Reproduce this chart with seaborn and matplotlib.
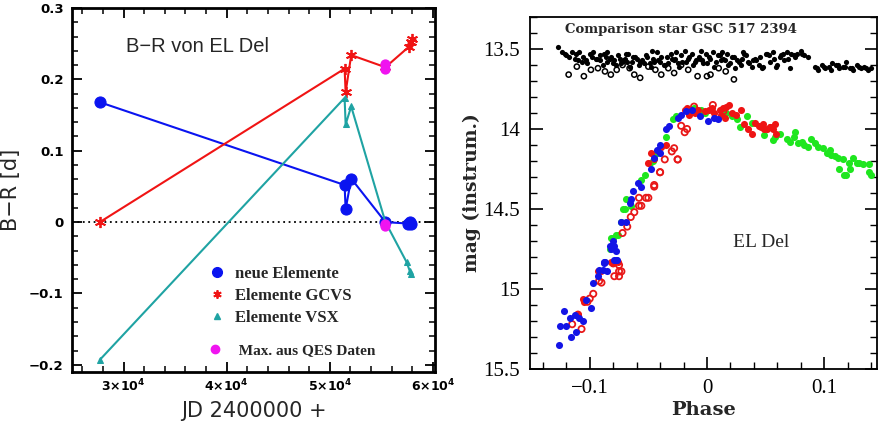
import numpy as np
import pandas as pd
import seaborn as sns
import matplotlib
matplotlib.use("Agg")
import matplotlib.pyplot as plt
from matplotlib.lines import Line2D
from matplotlib.ticker import MultipleLocator, FixedLocator, FuncFormatter

# ---------------- Left panel data (B-R of EL Del) ----------------
jd_neu = [27700, 51440, 51540, 52080, 55400, 57600, 57750, 57850]
br_neu = [0.168, 0.052, 0.018, 0.061, 0.000, -0.002, 0.000, -0.003]
jd_gcvs = [27700, 51440, 51540, 52080, 55400, 57700, 57850, 57950]
br_gcvs = [0.000, 0.215, 0.182, 0.234, 0.217, 0.246, 0.252, 0.256]
jd_vsx = [27700, 51440, 51540, 52080, 55400, 57450, 57750, 57850]
br_vsx = [-0.193, 0.174, 0.137, 0.162, 0.000, -0.056, -0.068, -0.072]
jd_qes = [55400, 55400, 55400, 55400]
br_qes = [0.215, 0.222, -0.002, -0.006]
x_ticks_left = [30000, 40000, 50000, 60000]
x_ticklabels_left = [r"$\mathbf{3{\times}10^4}$", r"$\mathbf{4{\times}10^4}$",
                     r"$\mathbf{5{\times}10^4}$", r"$\mathbf{6{\times}10^4}$"]

# ---------------- Right panel data (light curve) ----------------
comp_phase = [-0.127, -0.124, -0.121, -0.118, -0.115, -0.112, -0.109, -0.106, -0.103, -0.100,
              -0.097, -0.094, -0.091, -0.088, -0.085, -0.082, -0.079, -0.076, -0.073, -0.070,
              -0.067, -0.064, -0.061, -0.058, -0.055, -0.052, -0.049, -0.046, -0.043, -0.040,
              -0.037, -0.034, -0.031, -0.028, -0.025, -0.022, -0.019, -0.016, -0.013, -0.010,
              -0.007, -0.004, -0.001, 0.002, 0.005, 0.008, 0.011, 0.014, 0.017, 0.020,
              0.023, 0.026, 0.029, 0.032, 0.035, 0.038, 0.041, 0.044, 0.047, 0.050,
              0.053, 0.056, 0.059, 0.062, 0.065, 0.068, 0.071, 0.074, 0.077, 0.080,
              0.083, 0.086, 0.092, 0.095, 0.098, 0.101, 0.104, 0.107, 0.110, 0.113,
              0.116, 0.119, 0.122, 0.125, 0.128, 0.131, 0.134, 0.137, 0.140,
              -0.110, -0.102, -0.095, -0.089, -0.083, -0.078, -0.071, -0.066, -0.060, -0.054,
              -0.048, -0.042, -0.036, -0.030, -0.024, -0.018, -0.012, -0.006, 0.000, 0.006,
              0.012, 0.018, 0.024, 0.030, 0.036, 0.042, 0.048, 0.054, 0.060, 0.066,
              -0.120, -0.113, -0.107, -0.098, -0.091, -0.086, -0.080, -0.074, -0.068, -0.063,
              -0.057, -0.051, -0.045, -0.039, -0.033, -0.027, -0.021, -0.015, -0.009, -0.003,
              0.003, 0.009, 0.015, 0.021, 0.027, 0.033, 0.039, 0.045, 0.051, 0.057,
              0.063, 0.069, 0.075, 0.081, 0.094, 0.100, 0.106, 0.112, 0.118, 0.124,
              0.130, 0.136, -0.085, -0.069, -0.047, -0.026, -0.005, 0.013, 0.031, 0.072]
comp_mag = [13.49, 13.52, 13.53, 13.55, 13.52, 13.53, 13.52, 13.55, 13.57, 13.53,
            13.52, 13.56, 13.54, 13.53, 13.58, 13.55, 13.57, 13.54, 13.59, 13.56,
            13.53, 13.58, 13.55, 13.60, 13.57, 13.54, 13.59, 13.56, 13.52, 13.58,
            13.60, 13.55, 13.53, 13.57, 13.59, 13.54, 13.51, 13.56, 13.53, 13.58,
            13.55, 13.57, 13.53, 13.55, 13.52, 13.58, 13.54, 13.56, 13.53, 13.59,
            13.55, 13.57, 13.60, 13.53, 13.58, 13.61, 13.56, 13.60, 13.62, 13.53,
            13.54, 13.52, 13.61, 13.55, 13.53, 13.52, 13.62, 13.54, 13.53, 13.51,
            13.54, 13.55, 13.61, 13.63, 13.60, 13.62, 13.61, 13.59, 13.60, 13.62,
            13.61, 13.58, 13.62, 13.63, 13.60, 13.62, 13.61, 13.63, 13.62,
            13.57, 13.59, 13.56, 13.60, 13.56, 13.60, 13.57, 13.61, 13.56, 13.59,
            13.61, 13.57, 13.60, 13.56, 13.61, 13.58, 13.60, 13.56, 13.59, 13.61,
            13.57, 13.60, 13.62, 13.56, 13.59, 13.57, 13.61, 13.58, 13.60, 13.57,
            13.54, 13.56, 13.58, 13.55, 13.57, 13.55, 13.59, 13.56, 13.58, 13.55,
            13.58, 13.55, 13.58, 13.55, 13.59, 13.56, 13.58, 13.55, 13.57, 13.59,
            13.56, 13.54, 13.57, 13.55, 13.58, 13.54, 13.57, 13.55, 13.53, 13.56,
            13.54, 13.56, 13.55, 13.53, 13.62, 13.61, 13.63, 13.60, 13.61, 13.62,
            13.61, 13.62, 13.52, 13.53, 13.51, 13.52, 13.51, 13.52, 13.52, 13.53]
comp_open_phase = [-0.118, -0.111, -0.105, -0.099, -0.093, -0.087, -0.082, -0.077, -0.072, -0.066,
                   -0.062, -0.057, -0.050, -0.044, -0.039, -0.033, -0.028, -0.022, -0.016, -0.008,
                   0.000, 0.003, 0.010, 0.016, 0.023]
comp_open_mag = [13.66, 13.61, 13.67, 13.63, 13.62, 13.64, 13.66, 13.63, 13.60, 13.62,
                 13.66, 13.68, 13.61, 13.63, 13.66, 13.62, 13.65, 13.60, 13.63, 13.67,
                 13.67, 13.66, 13.62, 13.64, 13.69]

blue_phase = [-0.126, -0.122, -0.117, -0.125, -0.120, -0.116, -0.113, -0.109, -0.106, -0.099,
              -0.103, -0.097, -0.093, -0.092, -0.088, -0.085, -0.079, -0.078, -0.112, -0.087,
              -0.083, -0.080, -0.077, -0.069, -0.089, -0.040, -0.045, -0.048, -0.059, -0.056,
              -0.063, -0.065, -0.066, -0.073, -0.079, -0.082, -0.088, -0.078, -0.043, -0.035,
              -0.032, -0.025, -0.022, -0.018, -0.013, -0.006, 0.001, 0.006, 0.009, -0.040]
blue_mag = [15.35, 15.14, 15.18, 15.23, 15.23, 15.30, 15.16, 15.18, 15.20, 15.12,
            15.07, 14.96, 14.92, 14.88, 14.84, 14.89, 14.82, 14.76, 15.27, 14.83,
            14.73, 14.70, 14.82, 14.58, 14.88, 14.15, 14.18, 14.25, 14.34, 14.36,
            14.39, 14.44, 14.46, 14.58, 14.73, 14.75, 14.83, 14.82, 14.13, 14.00,
            13.98, 13.93, 13.91, 13.89, 13.88, 13.92, 13.95, 13.93, 13.94, 14.10]

red_phase = [-0.019, -0.017, -0.015, -0.008, -0.002, 0.002, 0.006, 0.011, 0.014, 0.016,
             0.019, 0.012, 0.015, 0.021, 0.025, 0.029, 0.032, 0.035, 0.041, 0.044,
             0.046, 0.051, 0.054, 0.038, 0.048, 0.054, 0.056, 0.059, 0.049, 0.058,
             -0.035, -0.039, -0.042, -0.045, -0.048, -0.050, -0.080, -0.106, -0.105, -0.110,
             -0.090, -0.082, -0.076, -0.093, 0.004, -0.010]
red_mag = [13.88, 13.87, 13.91, 13.88, 13.89, 13.88, 13.90, 13.88, 13.87, 13.86,
           13.85, 13.91, 13.93, 13.90, 13.91, 13.88, 13.97, 14.00, 13.96, 13.98,
           13.99, 14.00, 13.99, 14.03, 13.97, 13.99, 14.00, 14.03, 14.00, 13.97,
           14.10, 14.11, 14.14, 14.19, 14.15, 14.21, 14.84, 15.06, 15.08, 15.16,
           14.89, 14.83, 14.83, 14.89, 13.87, 13.90]

red_open_phase = [-0.022, -0.019, -0.017, -0.028, -0.025, -0.040, -0.045, -0.050, 0.005, -0.030,
                  -0.036, -0.025, -0.040, -0.045, -0.052, -0.058, -0.056, -0.062, -0.065, -0.068,
                  -0.072, -0.075, -0.080, -0.075, -0.079, -0.092, -0.090, -0.097, -0.100, -0.102,
                  -0.110, -0.115, -0.107, -0.075, -0.073, -0.058, -0.011, 0.014]
red_open_mag = [13.98, 14.02, 14.00, 14.12, 14.19, 14.27, 14.36, 14.43, 13.85, 14.14,
                14.19, 14.19, 14.27, 14.35, 14.43, 14.43, 14.48, 14.52, 14.55, 14.61,
                14.65, 14.85, 14.84, 14.89, 14.92, 14.95, 14.96, 15.03, 15.06, 15.08,
                15.16, 15.22, 15.25, 14.92, 14.89, 14.48, 13.86, 13.89]

green_phase = [0.049, 0.056, 0.058, 0.062, 0.068, 0.071, 0.074, 0.075, 0.078, 0.081,
               0.083, 0.086, 0.089, 0.092, 0.095, 0.099, 0.102, 0.105, 0.106, 0.109,
               0.112, 0.113, 0.116, 0.121, 0.122, 0.119, 0.125, 0.128, 0.130, 0.133,
               0.138, 0.138, 0.140, 0.117,
               -0.029, -0.026, -0.011, -0.005, -0.002, 0.016, 0.021, 0.026, 0.028, 0.034,
               0.038, -0.035, -0.043, -0.046, -0.045, -0.049, -0.053, -0.056, -0.069, -0.070,
               -0.076, -0.082, -0.072, -0.073, -0.080, -0.083, -0.078, -0.065]
green_mag = [14.04, 14.07, 14.05, 14.03, 14.06, 14.08, 14.05, 14.02, 14.09, 14.08,
             14.10, 14.11, 14.06, 14.09, 14.11, 14.12, 14.15, 14.13, 14.16, 14.17,
             14.18, 14.25, 14.19, 14.21, 14.25, 14.29, 14.18, 14.21, 14.21, 14.22,
             14.22, 14.27, 14.29, 14.29,
             13.94, 13.92, 13.87, 13.88, 13.90, 13.90, 13.92, 13.94, 13.99, 13.92,
             13.96, 14.05, 14.15, 14.20, 14.16, 14.21, 14.29, 14.32, 14.44, 14.50,
             14.66, 14.68, 14.50, 14.58, 14.68, 14.75, 14.66, 14.48]
x_ticks_right = [-0.1, 0.0, 0.1]
y_ticks_right = [13.5, 14.0, 14.5, 15.0, 15.5]
y_ticklabels_right = ["13.5", "14", "14.5", "15", "15.5"]

# ---------------- Figure ----------------
sns.set_theme(style="white")
plt.rcParams["font.family"] = ["DejaVu Sans"]
fig = plt.figure(figsize=(8.84, 4.21), dpi=100)
axL = fig.add_axes([0.0814, 0.1164, 0.4106, 0.8646])
axR = fig.add_axes([0.5995, 0.1235, 0.3925, 0.8361])

C_BLUE = "#0a14f0"
C_RED = "#f01414"
C_CYAN = "#1fa3a3"
C_MAG = "#f014f0"

# zero line
axL.axhline(0, color="black", lw=1.3, ls=(0, (1, 2)), zorder=1)

sns.lineplot(x=jd_neu, y=br_neu, ax=axL, sort=False, estimator=None, color=C_BLUE,
             lw=1.5, marker="o", markersize=8, markeredgecolor=C_BLUE, zorder=3)
sns.lineplot(x=jd_gcvs, y=br_gcvs, ax=axL, sort=False, estimator=None, color=C_RED,
             lw=1.5, marker=(6, 2, 0), markersize=8, markeredgecolor=C_RED,
             markeredgewidth=1.3, zorder=3)
sns.lineplot(x=jd_vsx, y=br_vsx, ax=axL, sort=False, estimator=None, color=C_CYAN,
             lw=1.5, marker="^", markersize=5, markeredgecolor=C_CYAN, zorder=3)
sns.scatterplot(x=jd_qes, y=br_qes, ax=axL, color=C_MAG, s=55, edgecolor=C_MAG,
                linewidth=0, zorder=4)

axL.set_xlim(25000, 60200)
axL.set_ylim(-0.21, 0.3)
axL.xaxis.set_major_locator(FixedLocator(x_ticks_left))
axL.set_xticklabels(x_ticklabels_left)
axL.xaxis.set_minor_locator(MultipleLocator(2000))
axL.yaxis.set_major_locator(MultipleLocator(0.1))
axL.yaxis.set_minor_locator(MultipleLocator(0.02))
axL.yaxis.set_major_formatter(FuncFormatter(lambda v, p: "0" if abs(v) < 1e-9 else f"{v:.1f}".replace("-", "\u2212")))
axL.tick_params(which="both", direction="in", top=True, right=True, bottom=True, left=True,
                colors="black")
axL.tick_params(which="major", length=7, width=1.3)
axL.tick_params(which="minor", length=4, width=1.1)
axL.tick_params(axis="y", labelsize=9.5, pad=6)
axL.tick_params(axis="x", labelsize=9, pad=4)
for lab in axL.get_yticklabels():
    lab.set_fontweight("bold")
for sp in axL.spines.values():
    sp.set_color("black")
    sp.set_linewidth(2)
axL.set_xlabel("JD 2400000 +", fontsize=15, labelpad=5)
axL.set_ylabel("B\u2212R [d]", fontsize=15, labelpad=6)
axL.text(0.15, 0.895, "B\u2212R von EL Del", transform=axL.transAxes, fontsize=14.5,
         family="Liberation Sans", va="center", ha="left")

h1 = [Line2D([], [], ls="none", marker="o", color=C_BLUE, markersize=7),
      Line2D([], [], ls="none", marker=(6, 2, 0), color=C_RED, markersize=6, markeredgewidth=1.3),
      Line2D([], [], ls="none", marker="^", color=C_CYAN, markersize=4)]
leg1 = axL.legend(h1, ["neue Elemente", "Elemente GCVS", "Elemente VSX"], loc="upper left",
                  bbox_to_anchor=(0.334, 0.332), frameon=False, handlelength=1.0,
                  handletextpad=0.6, labelspacing=0.35,
                  prop={"family": "Liberation Serif", "weight": "bold", "size": 12})
axL.add_artist(leg1)
h2 = [Line2D([], [], ls="none", marker="o", color=C_MAG, markersize=6)]
axL.legend(h2, ["  Max. aus QES Daten"], loc="upper left", bbox_to_anchor=(0.334, 0.116),
           frameon=False, handlelength=1.0, handletextpad=0.6,
           prop={"family": "Liberation Serif", "weight": "bold", "size": 11})

# ---------------- Right panel ----------------
sns.scatterplot(x=comp_phase, y=comp_mag, ax=axR, color="black", s=14, linewidth=0)
sns.scatterplot(x=comp_open_phase, y=comp_open_mag, ax=axR, marker="o", s=14,
                facecolor="none", edgecolor="black", linewidth=1.1)
sns.scatterplot(x=green_phase, y=green_mag, ax=axR, color="#1ee61e", s=26, linewidth=0)
sns.scatterplot(x=red_open_phase, y=red_open_mag, ax=axR, marker="o", s=20,
                facecolor="none", edgecolor="#e81818", linewidth=1.3)
sns.scatterplot(x=red_phase, y=red_mag, ax=axR, color="#ee1414", s=26, linewidth=0)
sns.scatterplot(x=blue_phase, y=blue_mag, ax=axR, color="#1414e6", s=26, linewidth=0)

axR.set_xlim(-0.151, 0.145)
axR.set_ylim(15.5, 13.3)
axR.xaxis.set_major_locator(FixedLocator(x_ticks_right))
axR.xaxis.set_major_formatter(FuncFormatter(lambda v, p: "0" if abs(v) < 1e-9 else f"{v:.1f}".replace("-", "\u2212")))
axR.xaxis.set_minor_locator(MultipleLocator(0.02))
axR.yaxis.set_major_locator(FixedLocator(y_ticks_right))
axR.set_yticklabels(y_ticklabels_right)
axR.yaxis.set_minor_locator(MultipleLocator(0.1))
axR.tick_params(which="both", direction="in", top=False, right=True, bottom=True, left=True,
                colors="black")
axR.tick_params(which="major", length=9, width=1.2)
axR.tick_params(which="minor", length=5, width=1.0)
axR.tick_params(axis="both", labelsize=15, pad=7)
for lab in axR.get_xticklabels() + axR.get_yticklabels():
    lab.set_family("Liberation Serif")
for sp in axR.spines.values():
    sp.set_color("black")
    sp.set_linewidth(1.3)
axR.set_xlabel("Phase", fontsize=14, family="DejaVu Serif", fontweight="bold", labelpad=2)
axR.set_ylabel("mag (instrum.)", fontsize=13.5, family="DejaVu Serif", fontweight="bold",
               labelpad=2)
axR.text(0.10, 0.965, "Comparison star GSC 517 2394", transform=axR.transAxes, fontsize=9.5,
         family="DejaVu Serif", fontweight="bold", va="center", ha="left")
axR.text(0.585, 0.36, "EL Del", transform=axR.transAxes, fontsize=14,
         family="Liberation Serif", va="center", ha="left")

fig.savefig("out.png", dpi=100)
